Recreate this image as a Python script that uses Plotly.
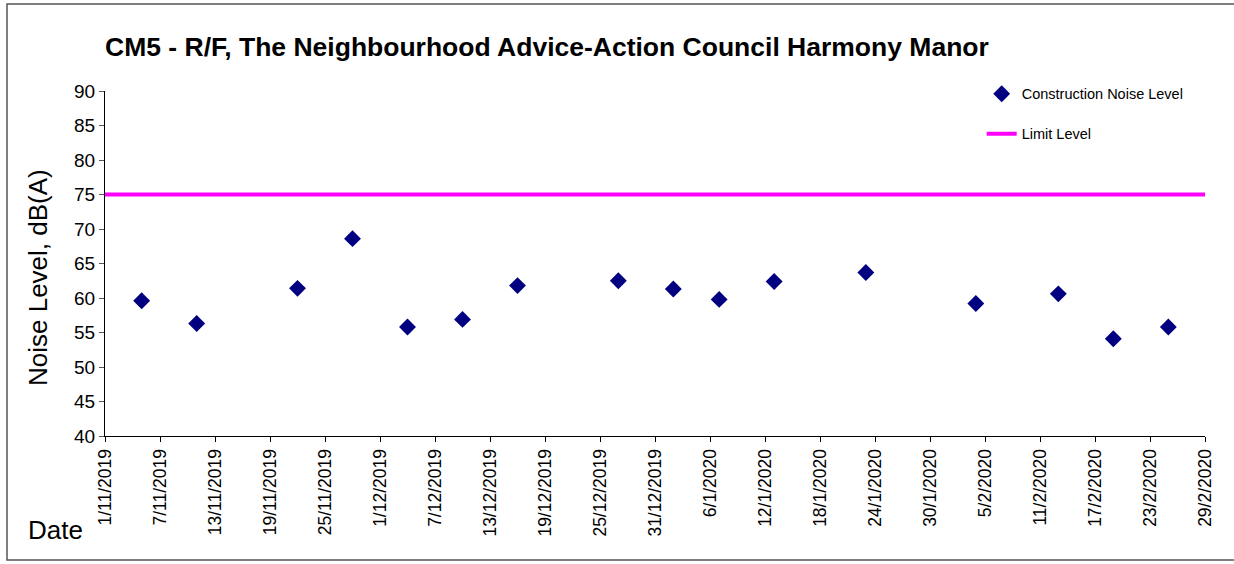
import plotly.graph_objects as go
import pandas as pd

# Data
dates = ["2019-11-05", "2019-11-11", "2019-11-22", "2019-11-28", "2019-12-04", "2019-12-10",
         "2019-12-16", "2019-12-27", "2020-01-02", "2020-01-07", "2020-01-13", "2020-01-23",
         "2020-02-04", "2020-02-13", "2020-02-19", "2020-02-25"]
noise = [59.6, 56.3, 61.4, 68.6, 55.8, 56.9, 61.8, 62.5, 61.3, 59.8, 62.4, 63.7,
         59.2, 60.6, 54.1, 55.8]
limit_dates = ["2019-11-01", "2020-02-29"]
limit_values = [75, 75]

tick_dates = pd.date_range("2019-11-01", "2020-02-29", freq="6D")
tick_labels = [f"{d.day}/{d.month}/{d.year}" for d in tick_dates]

FONT = "Liberation Sans, Arial, sans-serif"

fig = go.Figure()
fig.add_trace(go.Scatter(
    x=dates, y=noise, mode="markers", name="Construction Noise Level",
    legendgroup="a",
    marker=dict(symbol="diamond", size=13, color="#000080"),
))
fig.add_trace(go.Scatter(
    x=limit_dates, y=limit_values, mode="lines", name="Limit Level",
    legendgroup="b",
    line=dict(color="#FF00FF", width=4),
))

fig.update_layout(
    width=1234, height=564,
    margin=dict(l=105, r=29, t=91, b=128),
    paper_bgcolor="white", plot_bgcolor="white",
    font=dict(family=FONT, color="black"),
    title=dict(text="<b>CM5 - R/F, The Neighbourhood Advice-Action Council Harmony Manor</b>",
               x=105/1234, xanchor="left", y=1-47/564, yanchor="middle",
               font=dict(size=26.5, family=FONT)),
    showlegend=True,
    legend=dict(x=0.797, y=1.038, xanchor="left", yanchor="top",
                font=dict(size=14.5, family=FONT), bgcolor="rgba(0,0,0,0)",
                tracegroupgap=18),
    xaxis=dict(
        type="date", range=["2019-11-01", "2020-02-29"],
        tickmode="array", tickvals=list(tick_dates), ticktext=tick_labels,
        tickangle=-90, tickfont=dict(size=17.5, family=FONT),
        showgrid=False, zeroline=False,
        showline=True, linecolor="black", linewidth=1,
        ticks="outside", ticklen=5, tickcolor="black",
    ),
    yaxis=dict(
        range=[40, 90], dtick=5, tickfont=dict(size=19, family=FONT),
        showgrid=False, zeroline=False,
        showline=True, linecolor="black", linewidth=1,
        ticks="outside", ticklen=5, tickcolor="#555",
    ),
    annotations=[
        dict(text="Date", xref="paper", yref="paper",
             x=(55-105)/1100, y=(436-530)/345, xanchor="center", yanchor="middle",
             showarrow=False, font=dict(size=26, family=FONT)),
        dict(text="Noise Level, dB(A)", xref="paper", yref="paper", textangle=-90,
             x=(38-105)/1100, y=(436-278)/345, xanchor="center", yanchor="middle",
             showarrow=False, font=dict(size=26, family=FONT)),
    ],
    shapes=[dict(type="rect", xref="paper", yref="paper",
                 x0=(7-105)/1100, x1=(1240-105)/1100,
                 y0=(436-560)/345, y1=(436-4)/345,
                 line=dict(color="#555", width=1.5))],
)

fig.write_html("out.html", config={"displayModeBar": False},
               post_script="document.body.style.margin='0';")
